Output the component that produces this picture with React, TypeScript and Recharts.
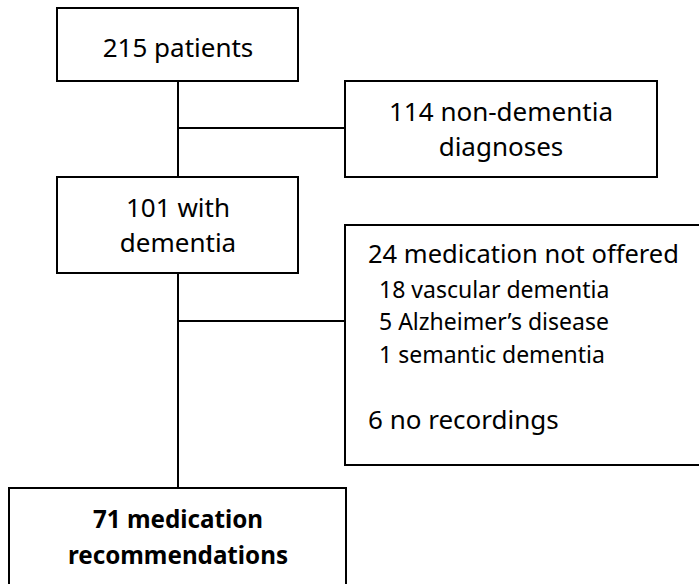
import { ComposedChart, XAxis, YAxis, ReferenceArea, ReferenceLine, Scatter } from "recharts";

// flowchart laid out in a 699 x 584 coordinate space (y grows downward)
const boxLeft = [57, 345, 57, 345, 9];
const boxRight = [298, 657, 298, 712, 346];
const boxTop = [8, 81, 177, 225, 488];
const boxBottom = [81, 177, 273, 465, 600];

const connectors: { x1: number; y1: number; x2: number; y2: number }[] = [
  { x1: 178, y1: 81, x2: 178, y2: 177 },
  { x1: 178, y1: 128, x2: 345, y2: 128 },
  { x1: 178, y1: 273, x2: 178, y2: 488 },
  { x1: 178, y1: 321, x2: 345, y2: 321 },
];

const lineText = [
  "215 patients",
  "114 non-dementia",
  "diagnoses",
  "101 with",
  "dementia",
  "24 medication not offered",
  "18 vascular dementia",
  "5 Alzheimer\u2019s disease",
  "1 semantic dementia",
  "6 no recordings",
  "71 medication",
  "recommendations",
];
const lineX = [178, 501, 501, 178, 178, 368, 379, 379, 379, 368, 178, 178];
const lineY = [57, 121, 156, 217, 252, 263, 298, 330, 363, 429, 528, 564];
const lineSize = [26, 26, 26, 26, 26, 25.5, 23, 23, 23, 26, 24.2, 24.2];
const lineAnchor = ["middle", "middle", "middle", "middle", "middle", "start", "start", "start", "start", "start", "middle", "middle"];
const lineBold = [false, false, false, false, false, false, false, false, false, false, true, true];

const textData = lineText.map((t, i) => ({
  x: lineX[i],
  y: lineY[i],
  text: t,
  size: lineSize[i],
  anchor: lineAnchor[i],
  bold: lineBold[i],
}));

const TextMark = (props: any) => {
  const { cx, cy, payload } = props;
  return (
    <text
      x={cx}
      y={cy}
      textAnchor={payload.anchor}
      fontSize={payload.size}
      fontWeight={payload.bold ? 700 : 400}
      fontFamily="'Noto Sans', sans-serif"
      fill="#000"
    >
      {payload.text}
    </text>
  );
};

export default function App() {
  return (
    <div style={{ position: "absolute", left: 0, top: 0, background: "#fff" }}>
      <ComposedChart width={699} height={584} margin={{ top: 0, right: 0, bottom: 0, left: 0 }} data={textData}>
        <XAxis type="number" dataKey="x" domain={[0, 699]} hide allowDataOverflow />
        <YAxis type="number" dataKey="y" domain={[0, 584]} reversed hide allowDataOverflow />
        {connectors.map((c, i) => (
          <ReferenceLine
            key={`c${i}`}
            segment={[
              { x: c.x1, y: c.y1 },
              { x: c.x2, y: c.y2 },
            ]}
            stroke="#000"
            strokeWidth={2}
            ifOverflow="visible"
          />
        ))}
        {boxLeft.map((l, i) => (
          <ReferenceArea
            key={`b${i}`}
            x1={l}
            x2={boxRight[i]}
            y1={boxTop[i]}
            y2={boxBottom[i]}
            fill="#fff"
            fillOpacity={1}
            stroke="#000"
            strokeWidth={2}
            ifOverflow="hidden"
          />
        ))}
        <Scatter data={textData} dataKey="y" shape={TextMark} isAnimationActive={false} />
      </ComposedChart>
    </div>
  );
}
